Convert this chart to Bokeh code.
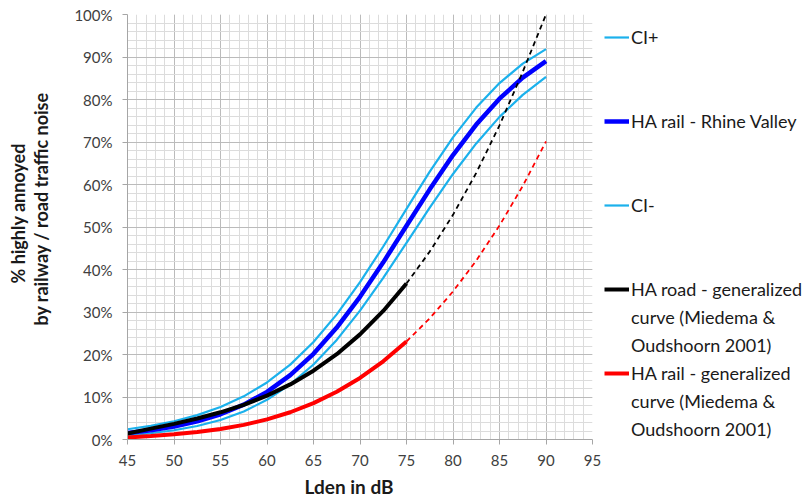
from bokeh.plotting import figure
from bokeh.models import (SingleIntervalTicker, PrintfTickFormatter, Legend,
                          LegendItem, Range1d, Title)
from bokeh.embed import file_html
from bokeh.resources import INLINE

# ---- data ----
lden = [45, 47.5, 50, 52.5, 55, 57.5, 60, 62.5, 65, 67.5, 70, 72.5, 75,
        77.5, 80, 82.5, 85, 87.5, 90]
ha_rail_rhine = [1.55, 2.18, 3.06, 4.27, 5.94, 8.20, 11.21, 15.15, 20.16, 26.33,
                 33.58, 41.68, 50.28, 58.86, 66.93, 74.10, 80.19, 85.14, 89.02]
ci_plus = [2.41, 3.22, 4.29, 5.73, 7.63, 10.15, 13.42, 17.61, 22.95, 29.44,
           37.01, 45.41, 54.26, 63.02, 71.10, 78.09, 83.87, 88.44, 91.85]
ci_minus = [0.99, 1.47, 2.17, 3.17, 4.60, 6.59, 9.33, 12.98, 17.64, 23.43,
            30.32, 38.04, 46.28, 54.56, 62.48, 69.66, 75.91, 81.08, 85.35]
ha_road_gen = [1.43, 2.55, 3.68, 4.93, 6.40, 8.16, 10.32, 12.96, 16.18, 20.08,
               24.73, 30.25, 36.71, 44.22, 52.86, 62.73, 73.91, 86.51, 100.0]
ha_rail_gen = [0.46, 0.82, 1.22, 1.75, 2.47, 3.44, 4.73, 6.41, 8.55, 11.22,
               14.48, 18.41, 23.06, 28.51, 34.83, 42.08, 50.33, 59.65, 70.11]
solid_end = 75  # generalized curves are solid up to 75 dB, dashed beyond

x_tick_interval = 5
y_tick_interval = 10

FONT = "Lato"
LIGHT_BLUE = "#1BB1EC"
TXT = "#1a1a1a"

p = figure(frame_width=465, frame_height=425, output_backend="svg",
           toolbar_location=None,
           x_range=Range1d(45, 95), y_range=Range1d(0, 100),
           min_border_left=127, min_border_right=0, min_border_top=14,
           min_border_bottom=65)
p.outline_line_color = None
p.background_fill_color = "white"
p.border_fill_color = "white"

# axes
p.xaxis.ticker = SingleIntervalTicker(interval=x_tick_interval, num_minor_ticks=5)
p.yaxis.ticker = SingleIntervalTicker(interval=y_tick_interval, num_minor_ticks=5)
p.yaxis.formatter = PrintfTickFormatter(format="%d%%")
for ax in (p.xaxis, p.yaxis):
    ax.axis_line_color = "#A6A6A6"
    ax.major_tick_line_color = "#A6A6A6"
    ax.minor_tick_line_color = None
    ax.major_tick_in = 0
    ax.major_tick_out = 5
    ax.major_label_text_font = FONT
    ax.major_label_text_font_size = "15px"
    ax.major_label_text_color = "#404040"
p.xaxis.major_label_standoff = 10
p.yaxis.major_label_standoff = 10

# grid
for g in (p.xgrid, p.ygrid):
    g.grid_line_color = "#BBBBBB"
    g.minor_grid_line_color = "#DCDCDC"

n_solid = lden.index(solid_end) + 1
x_solid = lden[:n_solid]
x_dash = lden[n_solid - 1:]

r_ciplus = p.line(lden, ci_plus, line_color=LIGHT_BLUE, line_width=2.2)
r_ciminus = p.line(lden, ci_minus, line_color=LIGHT_BLUE, line_width=2.2)
r_rhine = p.line(lden, ha_rail_rhine, line_color="#0000FF", line_width=4.5)
r_road = p.line(x_solid, ha_road_gen[:n_solid], line_color="black", line_width=4)
p.line(x_dash, ha_road_gen[n_solid - 1:], line_color="black", line_width=1.8,
       line_dash="5 4")
r_rail = p.line(x_solid, ha_rail_gen[:n_solid], line_color="#FF0000", line_width=4)
p.line(x_dash, ha_rail_gen[n_solid - 1:], line_color="#FF0000", line_width=1.8,
       line_dash="5 4")
dummy = p.line([], [], line_alpha=0)

items = [
    LegendItem(label="CI+", renderers=[r_ciplus]),
    LegendItem(label=" ", renderers=[dummy]),
    LegendItem(label="  ", renderers=[dummy]),
    LegendItem(label="HA rail - Rhine Valley", renderers=[r_rhine]),
    LegendItem(label="   ", renderers=[dummy]),
    LegendItem(label="    ", renderers=[dummy]),
    LegendItem(label="CI-", renderers=[r_ciminus]),
    LegendItem(label="     ", renderers=[dummy]),
    LegendItem(label="      ", renderers=[dummy]),
    LegendItem(label="HA road - generalized", renderers=[r_road]),
    LegendItem(label="curve (Miedema &", renderers=[dummy]),
    LegendItem(label="Oudshoorn 2001)", renderers=[dummy]),
    LegendItem(label="HA rail - generalized", renderers=[r_rail]),
    LegendItem(label="curve (Miedema & ", renderers=[dummy]),
    LegendItem(label="Oudshoorn 2001) ", renderers=[dummy]),
]
legend = Legend(items=items, location="top_left", margin=12, padding=0, spacing=6,
                glyph_width=25, glyph_height=22, label_height=22, label_standoff=2,
                label_text_font=FONT, label_text_font_size="18px",
                label_text_color=TXT, border_line_alpha=0,
                background_fill_alpha=0)
p.add_layout(legend, "right")

# y-axis title (two lines), with a small spacer next to the tick labels
p.add_layout(Title(text=" ", text_font_size="1px", standoff=14), "left")
tcommon = dict(text_font=FONT, text_font_size="18px", text_font_style="bold",
               text_color=TXT, align="left")
p.add_layout(Title(text="by railway / road traffic noise", standoff=2,
                   vertical_align="top", offset=114, **tcommon), "left")
p.add_layout(Title(text="% highly annoyed", standoff=0, vertical_align="bottom",
                   offset=156, **tcommon), "left")

# x-axis title
p.add_layout(Title(text="Lden in dB", text_font=FONT, text_font_size="19px",
                   text_font_style="bold", text_color=TXT, align="left",
                   offset=177, vertical_align="bottom", standoff=9), "below")

open("out.html", "w").write(file_html(p, INLINE))
